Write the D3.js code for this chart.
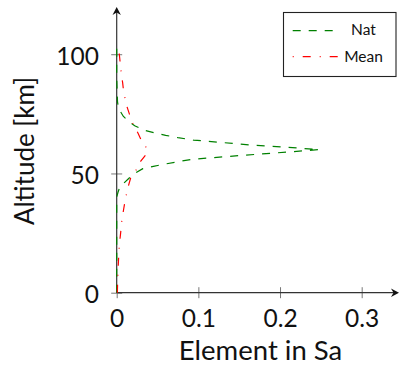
<!DOCTYPE html>
<html>
<head>
<meta charset="utf-8">
<script src="https://cdn.jsdelivr.net/npm/d3@7"></script>
<style>
  html, body { margin: 0; padding: 0; background: #fff; }
  svg { display: block; font-family: Lato, "Open Sans", sans-serif; }
</style>
</head>
<body>
<svg id="chart" width="401" height="365"></svg>
<script>
// Altitude grid (km) and profile values for the "Nat" element
const natAlt = [0, 10, 20, 30, 40, 42, 44, 46, 48, 50, 52, 53, 54, 55, 56, 57, 58, 59, 60,
                61, 62, 63, 64, 65, 66, 67, 68, 70, 72, 74, 76, 78, 80, 90, 100, 104];
const natVal = [0, 0, 0, 0, 0, 0.0015, 0.0035, 0.009, 0.015, 0.022, 0.032, 0.045, 0.06, 0.076,
                0.094, 0.132, 0.17, 0.21, 0.248,
                0.208, 0.162, 0.128, 0.094, 0.075, 0.06, 0.047, 0.035, 0.022, 0.014, 0.008,
                0.0045, 0.002, 0.001, 0, 0, 0];

// Altitude grid (km) and profile values for the "Mean" element
const meanAlt = [0, 5, 10, 15, 20, 25, 30, 35, 40, 45, 48, 50, 52, 55, 58, 60, 62, 64, 67,
                 70, 72, 75, 78, 80, 84, 88, 92, 96, 100, 104];
const meanVal = [0.0008, 0.0012, 0.0017, 0.0024, 0.0032, 0.0048, 0.0062, 0.0085, 0.011,
                 0.0145, 0.017, 0.0205, 0.025, 0.029, 0.036, 0.038, 0.034, 0.03, 0.026,
                 0.021, 0.0185, 0.0155, 0.0126, 0.0112, 0.0086, 0.0073, 0.0056, 0.0044,
                 0.0032, 0.0024];

const xTicks = [0, 0.1, 0.2, 0.3];
const yTicks = [0, 50, 100];
const seriesNames = ["Nat", "Mean"];

// Axis limits (the arrows run to these values)
const xMax = 0.3457;
const yMax = 119.8;

const svg = d3.select("#chart");

const x = d3.scaleLinear().domain([0, xMax]).range([116.7, 399]);
const y = d3.scaleLinear().domain([0, yMax]).range([292.7, 7]);

const axisColor = "#333";
const tickColor = "#777";
const tickHalf = 5.5;
const textColor = "#111";
const textWeight = 400;

// ---- x axis ----
const gx = svg.append("g").attr("transform", `translate(0,${y(0)})`)
  .call(d3.axisBottom(x).tickValues(xTicks).tickSize(0).tickPadding(0)
        .tickFormat(d => d === 0 ? "0" : d3.format(".1f")(d)));
gx.select(".domain").remove();
gx.selectAll(".tick line")
  .attr("y1", -tickHalf).attr("y2", tickHalf)
  .attr("stroke", tickColor).attr("stroke-width", 1);
gx.selectAll(".tick text")
  .attr("y", 34).attr("dy", 0)
  .attr("fill", textColor).attr("font-size", 24.5).attr("font-weight", textWeight)
  .attr("font-family", "Lato");

// ---- y axis ----
const gy = svg.append("g").attr("transform", `translate(${x(0)},0)`)
  .call(d3.axisLeft(y).tickValues(yTicks).tickSize(0).tickPadding(0)
        .tickFormat(d3.format("d")));
gy.select(".domain").remove();
gy.selectAll(".tick line")
  .attr("x1", -tickHalf).attr("x2", tickHalf)
  .attr("stroke", tickColor).attr("stroke-width", 1);
gy.selectAll(".tick text")
  .attr("x", -17.7).attr("dy", "0.42em")
  .attr("fill", textColor).attr("font-size", 24.5).attr("font-weight", textWeight)
  .attr("font-family", "Lato");

// axis lines with arrow heads
svg.append("line")
  .attr("x1", x(0)).attr("x2", x(xMax) - 3)
  .attr("y1", y(0)).attr("y2", y(0))
  .attr("stroke", axisColor).attr("stroke-width", 1.2);
svg.append("line")
  .attr("x1", x(0)).attr("x2", x(0))
  .attr("y1", y(0)).attr("y2", y(yMax) + 3)
  .attr("stroke", axisColor).attr("stroke-width", 1.2);

const ax = x(xMax), ay = y(0);
svg.append("path")
  .attr("d", `M${ax},${ay} L${ax - 8},${ay - 4.2} L${ax - 5.5},${ay} L${ax - 8},${ay + 4.2} Z`)
  .attr("fill", "#111");
const bx = x(0), by = y(yMax);
svg.append("path")
  .attr("d", `M${bx},${by} L${bx - 4.2},${by + 8} L${bx},${by + 5.5} L${bx + 4.2},${by + 8} Z`)
  .attr("fill", "#111");

// ---- axis titles ----
svg.append("text")
  .attr("x", 260.5).attr("y", 359.5)
  .attr("text-anchor", "middle")
  .attr("font-size", 27.5).attr("font-weight", textWeight).attr("fill", textColor)
  .text("Element in Sa");

svg.append("text")
  .attr("transform", `translate(33.5,151) rotate(-90)`)
  .attr("text-anchor", "middle")
  .attr("font-size", 26).attr("font-weight", textWeight).attr("fill", textColor)
  .text("Altitude [km]");

// ---- profiles ----
const line = d3.line().x(d => x(d[0])).y(d => y(d[1]));

const natColor = "#008000";
const meanColor = "#ff0000";
const natDash = "8,8";
const meanDash = "8,9,1,9";

svg.append("path")
  .datum(natAlt.map((a, i) => [natVal[i], a]))
  .attr("d", line)
  .attr("fill", "none")
  .attr("stroke", natColor).attr("stroke-width", 1.2)
  .attr("stroke-dasharray", natDash);

svg.append("path")
  .datum(meanAlt.map((a, i) => [meanVal[i], a]))
  .attr("d", line)
  .attr("fill", "none")
  .attr("stroke", meanColor).attr("stroke-width", 1.2)
  .attr("stroke-dasharray", meanDash);

// ---- legend ----
const legend = svg.append("g");
legend.append("rect")
  .attr("x", 283.5).attr("y", 12.5).attr("width", 112.5).attr("height", 64)
  .attr("fill", "#fff").attr("stroke", "#222").attr("stroke-width", 1.1);

const legendItems = [
  { name: seriesNames[0], color: natColor, dash: natDash, offset: 0, yy: 30.7, ty: 35 },
  { name: seriesNames[1], color: meanColor, dash: meanDash, offset: 17, yy: 56.7, ty: 61.5 }
];
legendItems.forEach(it => {
  legend.append("line")
    .attr("x1", 292.7).attr("x2", 338).attr("y1", it.yy).attr("y2", it.yy)
    .attr("stroke", it.color).attr("stroke-width", 1.2)
    .attr("stroke-dasharray", it.dash).attr("stroke-dashoffset", it.offset);
  legend.append("text")
    .attr("x", 363.5).attr("y", it.ty)
    .attr("text-anchor", "middle")
    .attr("font-size", 15.5).attr("font-weight", textWeight).attr("fill", textColor)
    .text(it.name);
});
</script>
</body>
</html>
